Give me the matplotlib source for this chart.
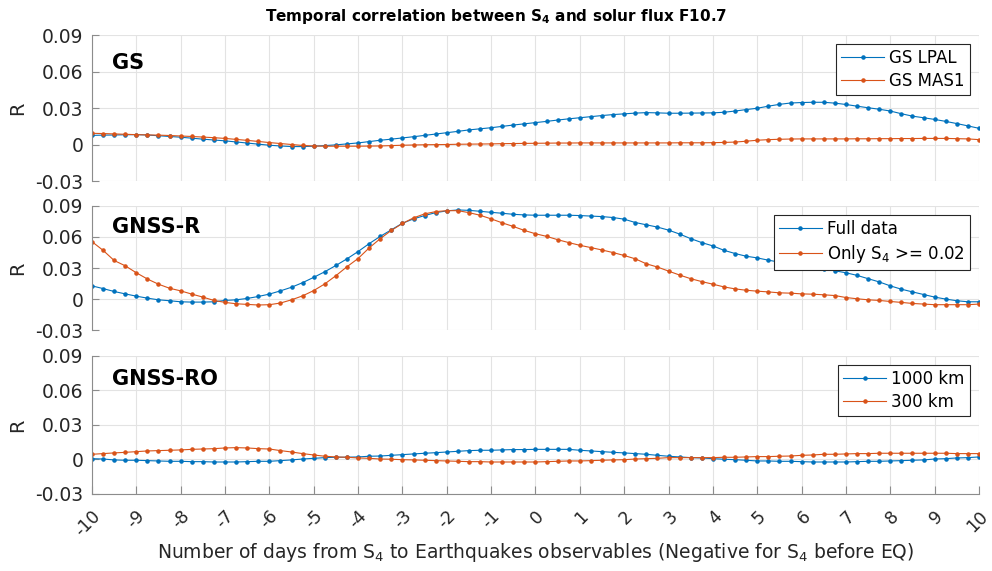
#!/usr/bin/env python
# -*- coding: utf-8 -*-
"""Correlation between S4 and the F10.7 solar flux for three data sources
(GS, GNSS-R, GNSS-RO), plotted against the day lag.
"""

import numpy as np
import matplotlib
matplotlib.use('Agg')
import matplotlib.pyplot as plt
import matplotlib.transforms as mtransforms

# day lag, one value every 6 hours
days = np.arange(-10, 10.001, 0.25)

gs_lpal = [
    0.0075, 0.0077, 0.0078, 0.0080,
    0.0081, 0.0078, 0.0072, 0.0066,
    0.0060, 0.0052, 0.0044, 0.0037,
    0.0030, 0.0021, 0.0012, 0.0003,
    -0.0006, -0.0012, -0.0017, -0.0017,
    -0.0014, -0.0009, -0.0003, 0.0005,
    0.0013, 0.0024, 0.0035, 0.0044,
    0.0054, 0.0064, 0.0075, 0.0086,
    0.0097, 0.0108, 0.0120, 0.0129,
    0.0138, 0.0149, 0.0160, 0.0170,
    0.0180, 0.0190, 0.0201, 0.0211,
    0.0220, 0.0229, 0.0238, 0.0246,
    0.0252, 0.0258, 0.0262, 0.0260,
    0.0257, 0.0257, 0.0258, 0.0259,
    0.0260, 0.0265, 0.0275, 0.0287,
    0.0298, 0.0315, 0.0330, 0.0341,
    0.0345, 0.0347, 0.0347, 0.0340,
    0.0329, 0.0315, 0.0302, 0.0290,
    0.0275, 0.0253, 0.0233, 0.0220,
    0.0206, 0.0190, 0.0172, 0.0153,
    0.0133]
gs_mas1 = [
    0.0092, 0.0090, 0.0087, 0.0084,
    0.0081, 0.0079, 0.0077, 0.0074,
    0.0070, 0.0066, 0.0061, 0.0056,
    0.0050, 0.0042, 0.0034, 0.0025,
    0.0016, 0.0008, 0.0000, -0.0008,
    -0.0012, -0.0014, -0.0014, -0.0014,
    -0.0014, -0.0013, -0.0012, -0.0009,
    -0.0006, -0.0004, -0.0002, -0.0001,
    0.0000, 0.0002, 0.0003, 0.0004,
    0.0005, 0.0007, 0.0008, 0.0009,
    0.0010, 0.0011, 0.0012, 0.0012,
    0.0013, 0.0013, 0.0013, 0.0013,
    0.0013, 0.0013, 0.0013, 0.0013,
    0.0013, 0.0014, 0.0014, 0.0014,
    0.0015, 0.0017, 0.0020, 0.0027,
    0.0035, 0.0040, 0.0043, 0.0045,
    0.0046, 0.0046, 0.0046, 0.0046,
    0.0046, 0.0047, 0.0047, 0.0048,
    0.0048, 0.0049, 0.0049, 0.0050,
    0.0050, 0.0050, 0.0048, 0.0046,
    0.0040]

gnssr_full = [
    0.0129, 0.0103, 0.0075, 0.0052,
    0.0030, 0.0011, -0.0005, -0.0014,
    -0.0024, -0.0027, -0.0027, -0.0024,
    -0.0011, -0.0005, 0.0008, 0.0027,
    0.0050, 0.0081, 0.0116, 0.0160,
    0.0211, 0.0265, 0.0325, 0.0389,
    0.0459, 0.0535, 0.0605, 0.0668,
    0.0731, 0.0773, 0.0805, 0.0833,
    0.0850, 0.0859, 0.0855, 0.0846,
    0.0836, 0.0827, 0.0817, 0.0811,
    0.0808, 0.0808, 0.0808, 0.0808,
    0.0805, 0.0800, 0.0795, 0.0786,
    0.0770, 0.0738, 0.0716, 0.0694,
    0.0665, 0.0627, 0.0583, 0.0545,
    0.0513, 0.0471, 0.0440, 0.0414,
    0.0398, 0.0376, 0.0357, 0.0338,
    0.0322, 0.0303, 0.0290, 0.0274,
    0.0255, 0.0230, 0.0198, 0.0167,
    0.0129, 0.0097, 0.0071, 0.0046,
    0.0021, 0.0002, -0.0014, -0.0024,
    -0.0024]
gnssr_s4 = [
    0.0554, 0.0471, 0.0373, 0.0322,
    0.0255, 0.0195, 0.0145, 0.0106,
    0.0081, 0.0050, 0.0021, -0.0011,
    -0.0030, -0.0043, -0.0049, -0.0055,
    -0.0052, -0.0036, -0.0005, 0.0033,
    0.0084, 0.0148, 0.0227, 0.0313,
    0.0392, 0.0494, 0.0583, 0.0662,
    0.0729, 0.0783, 0.0821, 0.0843,
    0.0852, 0.0852, 0.0833, 0.0808,
    0.0773, 0.0735, 0.0700, 0.0662,
    0.0630, 0.0605, 0.0573, 0.0545,
    0.0519, 0.0497, 0.0474, 0.0449,
    0.0421, 0.0389, 0.0341, 0.0310,
    0.0271, 0.0233, 0.0198, 0.0170,
    0.0145, 0.0119, 0.0100, 0.0087,
    0.0078, 0.0071, 0.0062, 0.0059,
    0.0052, 0.0049, 0.0043, 0.0036,
    0.0017, 0.0005, -0.0005, -0.0011,
    -0.0021, -0.0030, -0.0040, -0.0046,
    -0.0052, -0.0052, -0.0052, -0.0052,
    -0.0046]

gnssro_1000 = [
    0.0007, 0.0004, -0.0004, -0.0007,
    -0.0007, -0.0010, -0.0013, -0.0016,
    -0.0016, -0.0019, -0.0019, -0.0022,
    -0.0022, -0.0022, -0.0019, -0.0016,
    -0.0016, -0.0010, -0.0004, 0.0004,
    0.0010, 0.0016, 0.0019, 0.0020,
    0.0022, 0.0028, 0.0030, 0.0036,
    0.0042, 0.0048, 0.0054, 0.0059,
    0.0065, 0.0071, 0.0077, 0.0080,
    0.0080, 0.0083, 0.0086, 0.0086,
    0.0088, 0.0088, 0.0088, 0.0088,
    0.0080, 0.0074, 0.0068, 0.0062,
    0.0057, 0.0051, 0.0045, 0.0036,
    0.0028, 0.0022, 0.0016, 0.0013,
    0.0007, 0.0002, -0.0002, -0.0007,
    -0.0013, -0.0013, -0.0016, -0.0016,
    -0.0019, -0.0022, -0.0022, -0.0022,
    -0.0022, -0.0019, -0.0016, -0.0016,
    -0.0013, -0.0010, -0.0007, -0.0004,
    0.0004, 0.0007, 0.0013, 0.0016,
    0.0022]
gnssro_300 = [
    0.0045, 0.0051, 0.0057, 0.0062,
    0.0068, 0.0074, 0.0077, 0.0080,
    0.0083, 0.0088, 0.0091, 0.0094,
    0.0100, 0.0103, 0.0100, 0.0094,
    0.0091, 0.0077, 0.0065, 0.0051,
    0.0039, 0.0028, 0.0022, 0.0019,
    0.0013, 0.0010, 0.0004, 0.0002,
    -0.0002, -0.0004, -0.0007, -0.0010,
    -0.0013, -0.0016, -0.0019, -0.0019,
    -0.0022, -0.0022, -0.0022, -0.0022,
    -0.0022, -0.0019, -0.0016, -0.0013,
    -0.0013, -0.0010, -0.0007, -0.0004,
    -0.0002, 0.0004, 0.0007, 0.0010,
    0.0016, 0.0016, 0.0016, 0.0016,
    0.0016, 0.0019, 0.0019, 0.0022,
    0.0025, 0.0025, 0.0028, 0.0030,
    0.0036, 0.0039, 0.0045, 0.0045,
    0.0048, 0.0051, 0.0051, 0.0054,
    0.0054, 0.0054, 0.0054, 0.0054,
    0.0054, 0.0054, 0.0051, 0.0051,
    0.0051]

panel_names = ['GS', 'GNSS-R', 'GNSS-RO']
legend_labels = [['GS LPAL', 'GS MAS1'],
                 ['Full data', 'Only S$_4$ >= 0.02'],
                 ['1000 km', '300 km']]
yticks = [-0.03, 0, 0.03, 0.06, 0.09]
ytick_labels = ['-0.03', '0', '0.03', '0.06', '0.09']
xticks = list(range(-10, 11))
xtick_labels = [str(t) for t in xticks]

BLUE = '#0072BD'
ORANGE = '#D95319'
TXT = '#262626'


def main():
    """Make the figure"""
    plt.rcParams['font.family'] = ['DejaVu Sans']
    plt.rcParams['mathtext.default'] = 'regular'

    fig = plt.figure(figsize=(9.92, 5.71), dpi=100)
    # panel boxes in figure fraction: [left, bottom, width, height]
    boxes = [[0.0927, 0.683, 0.8942, 0.2557],
             [0.0927, 0.4212, 0.8942, 0.2186],
             [0.0927, 0.1349, 0.8942, 0.2417]]
    series = [(gs_lpal, gs_mas1), (gnssr_full, gnssr_s4),
              (gnssro_1000, gnssro_300)]
    label_y = [0.81, 0.83, 0.83]

    for i, box in enumerate(boxes):
        ax = fig.add_axes(box)
        s1, s2 = series[i]
        ax.plot(days, s1, color=BLUE, lw=0.8, marker='.', ms=4.5,
                label=legend_labels[i][0])
        ax.plot(days, s2, color=ORANGE, lw=0.8, marker='.', ms=4.5,
                label=legend_labels[i][1])

        ax.set_xlim(-10, 10)
        ax.set_ylim(-0.03, 0.09)
        ax.set_yticks(yticks)
        ax.set_yticklabels(ytick_labels)
        ax.set_xticks(xticks)
        ax.grid(True, color='#e3e3e3', lw=0.8)
        ax.set_axisbelow(True)
        for side in ['top', 'right']:
            ax.spines[side].set_visible(False)
        ax.spines['left'].set_color('#8c8c8c')
        ax.spines['bottom'].set_color('#8c8c8c')
        ax.tick_params(axis='y', direction='in', length=5, color='#8c8c8c',
                       labelsize=13.5, labelcolor=TXT, pad=6)
        if i < 2:
            ax.spines['bottom'].set_visible(False)
            ax.tick_params(axis='x', length=0, labelbottom=False)
        else:
            ax.tick_params(axis='x', direction='in', length=6, color='#8c8c8c',
                           labelsize=12.5, labelcolor=TXT, pad=14)
            ax.set_xticklabels(xtick_labels, rotation=45, ha='right',
                               va='center', rotation_mode='anchor')
            # nudge the rotated labels a bit to the right
            shift = mtransforms.ScaledTranslation(6 / 100.0, 0,
                                                  fig.dpi_scale_trans)
            for lab in ax.get_xticklabels():
                lab.set_transform(lab.get_transform() + shift)
            ax.set_xlabel('Number of days from S$_4$ to Earthquakes '
                          'observables (Negative for S$_4$ before EQ)',
                          fontsize=13.5, color=TXT, va='center')
            ax.xaxis.set_label_coords(0.5, -0.4275)

        ax.set_ylabel('R', fontsize=14, color=TXT)
        ax.yaxis.set_label_coords(-0.073, 0.5)
        ax.text(0.023, label_y[i], panel_names[i], transform=ax.transAxes,
                fontsize=15, fontweight='bold', va='center')

        leg = ax.legend(loc='upper right', fontsize=12, numpoints=1,
                        fancybox=False, framealpha=1, handlelength=2.6,
                        borderaxespad=0.55, labelspacing=0.3,
                        handletextpad=0.3, borderpad=0.3)
        leg.get_frame().set_edgecolor(TXT)
        leg.get_frame().set_linewidth(0.8)

    fig.text(0.5, 1 - 17 / 571.0,
             r'Temporal correlation between $\mathbf{S_4}$ and solur flux F10.7',
             ha='center', va='center', fontsize=11, fontweight='bold')

    fig.savefig('out.png', dpi=100)


if __name__ == "__main__":
    main()
